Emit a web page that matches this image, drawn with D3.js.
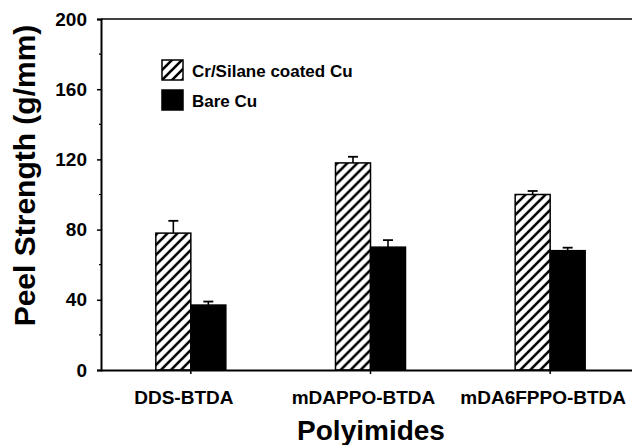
<!DOCTYPE html>
<html>
<head>
<meta charset="utf-8">
<script src="https://cdn.jsdelivr.net/npm/d3@7"></script>
<style>
  body { margin: 0; background: #fff; }
  text { font-family: "Liberation Sans", Arial, Helvetica, sans-serif; font-weight: bold; fill: #000; }
</style>
</head>
<body>
<div id="chart"></div>
<script>
const width = 632
const height = 445

const categories = ['DDS-BTDA', 'mDAPPO-BTDA', 'mDA6FPPO-BTDA']
const seriesNames = ['Cr/Silane coated Cu', 'Bare Cu']
const coated = [78, 118, 100]
const coatedErr = [7, 3.5, 2]
const bare = [37, 70, 68]
const bareErr = [2, 4, 1.7]
const yTicks = [0, 40, 80, 120, 160, 200]
const yMinor = [20, 60, 100, 140, 180]

const plotLeft = 101
const plotTop = 19
const plotBottom = 370

const svg = d3.select('#chart')
  .append('svg')
  .attr('width', width)
  .attr('height', height)

// hatch pattern "/"
const defs = svg.append('defs')
defs.append('pattern')
  .attr('id', 'hatch')
  .attr('patternUnits', 'userSpaceOnUse')
  .attr('width', 10)
  .attr('height', 10)
  .append('path')
  .attr('d', 'M0,10 L10,0 M-2,2 L2,-2 M8,12 L12,8')
  .attr('stroke', '#000')
  .attr('stroke-width', 2.6)

const x = d3.scaleBand()
  .domain(categories)
  .range([plotLeft, 640])
  .padding(0)

const y = d3.scaleLinear()
  .domain([0, 200])
  .range([plotBottom, plotTop])

const barW = 35

// top frame line
svg.append('line')
  .attr('x1', plotLeft).attr('x2', width)
  .attr('y1', y(200)).attr('y2', y(200))
  .attr('stroke', '#000').attr('stroke-width', 1.6)

// y axis
const yAxis = svg.append('g')
  .attr('transform', `translate(${plotLeft},0)`)
  .call(d3.axisLeft(y).tickValues(yTicks).tickSize(4).tickPadding(10))
yAxis.select('.domain').attr('stroke-width', 2)
yAxis.selectAll('.tick line').attr('stroke-width', 1.5)
yAxis.selectAll('text').attr('font-size', 19).attr('font-family', null)

svg.append('g')
  .selectAll('line')
  .data(yMinor)
  .join('line')
  .attr('x1', plotLeft - 2).attr('x2', plotLeft)
  .attr('y1', d => y(d)).attr('y2', d => y(d))
  .attr('stroke', '#000').attr('stroke-width', 1.2)

// bars
const groups = svg.append('g')
  .selectAll('g')
  .data(categories)
  .join('g')
  .attr('transform', d => `translate(${x(d) + x.bandwidth() / 2},0)`)

groups.append('rect')
  .attr('x', -barW)
  .attr('y', (d, i) => y(coated[i]))
  .attr('width', barW)
  .attr('height', (d, i) => y(0) - y(coated[i]))
  .attr('fill', 'url(#hatch)')
  .attr('stroke', '#000')
  .attr('stroke-width', 1.5)

groups.append('rect')
  .attr('x', 0)
  .attr('y', (d, i) => y(bare[i]))
  .attr('width', barW)
  .attr('height', (d, i) => y(0) - y(bare[i]))
  .attr('fill', '#000')
  .attr('stroke', '#000')
  .attr('stroke-width', 1.5)

// error bars (upper only)
function errBar (g, vals, errs, cx) {
  g.append('line')
    .attr('x1', cx).attr('x2', cx)
    .attr('y1', (d, i) => y(vals[i]))
    .attr('y2', (d, i) => y(vals[i] + errs[i]))
    .attr('stroke', '#000').attr('stroke-width', 1.6)
  g.append('line')
    .attr('x1', cx - 5).attr('x2', cx + 5)
    .attr('y1', (d, i) => y(vals[i] + errs[i]))
    .attr('y2', (d, i) => y(vals[i] + errs[i]))
    .attr('stroke', '#000').attr('stroke-width', 1.8)
}
errBar(groups, coated, coatedErr, -barW / 2)
errBar(groups, bare, bareErr, barW / 2)

// x axis
const xAxis = svg.append('g')
  .attr('transform', `translate(0,${plotBottom})`)
  .call(d3.axisBottom(x).tickSize(4).tickPadding(17).tickSizeOuter(0))
xAxis.select('.domain').attr('stroke-width', 2).attr('d', `M${plotLeft},0.5H${width}`)
xAxis.selectAll('.tick line').attr('stroke-width', 1.5)
xAxis.selectAll('text').attr('font-size', 19).attr('dx', -7).attr('font-family', null)

// legend
const legend = svg.append('g')
  .attr('transform', 'translate(162,60)')
const items = legend.selectAll('g')
  .data(seriesNames)
  .join('g')
  .attr('transform', (d, i) => `translate(0,${i * 30})`)
items.append('rect')
  .attr('width', 21).attr('height', 20)
  .attr('fill', (d, i) => i === 0 ? 'url(#hatch)' : '#000')
  .attr('stroke', '#000').attr('stroke-width', 1.5)
items.append('text')
  .attr('x', 30).attr('y', 17)
  .attr('font-size', 17)
  .text(d => d)

// axis titles
svg.append('text')
  .attr('transform', `translate(35,${(18 + 333) / 2}) rotate(-90)`)
  .attr('text-anchor', 'middle')
  .attr('font-size', 30)
  .text('Peel Strength (g/mm)')

svg.append('text')
  .attr('x', 371)
  .attr('y', 440)
  .attr('text-anchor', 'middle')
  .attr('font-size', 28)
  .text('Polyimides')
</script>
</body>
</html>
